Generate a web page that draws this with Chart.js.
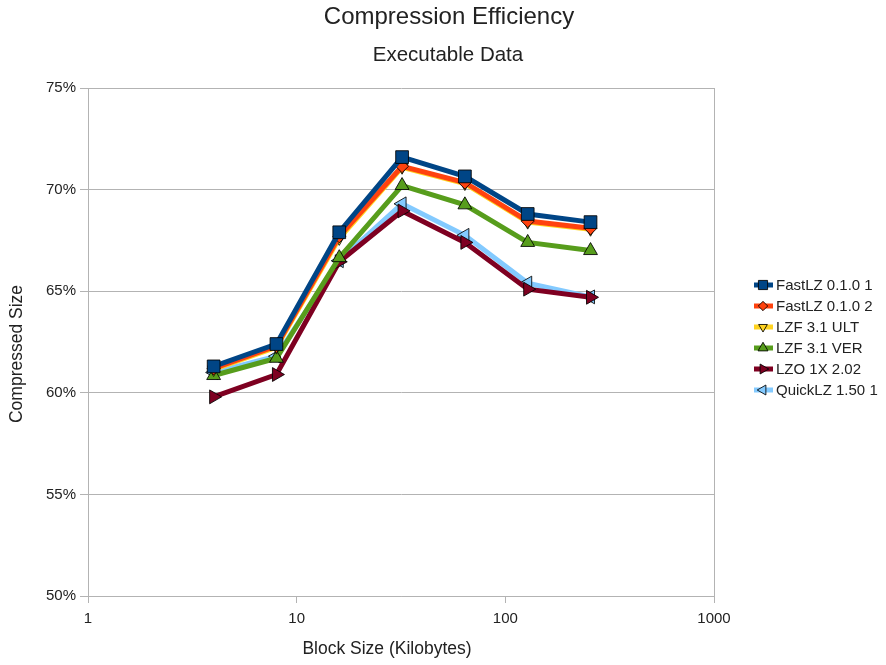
<!DOCTYPE html>
<html>
<head>
<meta charset="utf-8">
<title>Compression Efficiency</title>
<script src="https://cdn.jsdelivr.net/npm/chart.js@4/dist/chart.umd.min.js"></script>
<style>
  html, body { margin: 0; padding: 0; background: #ffffff; }
  canvas { display: block; }
</style>
</head>
<body>
<canvas id="chart" width="886" height="665"></canvas>
<script>
// Block sizes in kilobytes (x axis, logarithmic)
const blockSizes = [4, 8, 16, 32, 64, 128, 256];

// Compressed size as a percentage of the original, per compressor
const fastlz1  = [61.3, 62.4, 67.9, 71.6, 70.65, 68.8, 68.4];
const fastlz2  = [61.2, 62.3, 67.7, 71.15, 70.35, 68.45, 68.1];
const lzfUlt   = [61.15, 62.25, 67.6, 71.1, 70.3, 68.4, 68.05];
const lzfVer   = [60.85, 61.7, 66.65, 70.2, 69.25, 67.4, 67.0];
const lzo1x    = [59.8, 60.9, 66.45, 68.95, 67.4, 65.1, 64.7];
const quicklz  = [61.0, 61.8, 66.5, 69.3, 67.75, 65.4, 64.72];

const seriesNames = ['FastLZ 0.1.0 1', 'FastLZ 0.1.0 2', 'LZF 3.1 ULT', 'LZF 3.1 VER', 'LZO 1X 2.02', 'QuickLZ 1.50 1'];
const seriesValues = [fastlz1, fastlz2, lzfUlt, lzfVer, lzo1x, quicklz];

// Tick labels
const xTickValues = [1, 10, 100, 1000];
const yTickValues = [50, 55, 60, 65, 70, 75];

const colors = ['#004586', '#ff420e', '#ffd320', '#579d1c', '#7e0021', '#83caff'];
const markers = [
  { style: 'rect', rotation: 0, radius: 9 },
  { style: 'rectRot', rotation: 0, radius: 6.5 },
  { style: 'triangle', rotation: 180, radius: 7 },
  { style: 'triangle', rotation: 0, radius: 8 },
  { style: 'triangle', rotation: 90, radius: 8 },
  { style: 'triangle', rotation: 270, radius: 8 }
];

const FONT = '"Liberation Sans", Arial, sans-serif';
const TEXT = '#222222';
const GRID = '#b3b3b3';

const datasets = seriesNames.map((name, i) => ({
  label: name,
  data: blockSizes.map((b, j) => ({ x: b, y: seriesValues[i][j] })),
  borderColor: colors[i],
  backgroundColor: colors[i],
  borderWidth: 5,
  tension: 0,
  pointStyle: markers[i].style,
  pointRotation: markers[i].rotation,
  pointRadius: markers[i].radius,
  pointHoverRadius: markers[i].radius,
  pointBackgroundColor: colors[i],
  pointBorderColor: 'rgba(0,0,0,0.85)',
  pointBorderWidth: 1
}));

// Titles, axis titles and the legend on the right
const decorations = {
  id: 'decorations',
  afterDraw(chart) {
    const ctx = chart.ctx;
    ctx.save();
    ctx.fillStyle = TEXT;
    ctx.textAlign = 'center';
    ctx.textBaseline = 'middle';
    ctx.font = '24px ' + FONT;
    ctx.fillText('Compression Efficiency', 449, 17);
    ctx.font = '20.5px ' + FONT;
    ctx.fillText('Executable Data', 448, 55);

    ctx.font = '17.5px ' + FONT;
    ctx.fillText('Block Size (Kilobytes)', 387, 649);

    ctx.save();
    ctx.translate(17, 354);
    ctx.rotate(-Math.PI / 2);
    ctx.fillText('Compressed Size', 0, 0);
    ctx.restore();

    // legend
    ctx.textAlign = 'left';
    ctx.font = '15px ' + FONT;
    const startY = 285;
    const step = 21;
    seriesNames.forEach((name, i) => {
      const y = startY + i * step;
      ctx.strokeStyle = colors[i];
      ctx.lineWidth = 5;
      ctx.beginPath();
      ctx.moveTo(754, y);
      ctx.lineTo(773, y);
      ctx.stroke();
      ctx.fillStyle = colors[i];
      ctx.strokeStyle = 'rgba(0,0,0,0.85)';
      ctx.lineWidth = 1;
      Chart.helpers.drawPoint(ctx, {
        pointStyle: markers[i].style,
        rotation: markers[i].rotation,
        radius: markers[i].radius * 0.72,
        borderWidth: 1
      }, 763, y);
      ctx.fillStyle = TEXT;
      ctx.fillText(name, 776, y + 1);
    });
    ctx.restore();
  }
};

new Chart(document.getElementById('chart'), {
  type: 'line',
  data: { datasets },
  options: {
    responsive: false,
    animation: false,
    devicePixelRatio: 1,
    layout: { padding: { top: 88, right: 172, left: 0, bottom: 0 } },
    plugins: {
      legend: { display: false },
      title: { display: false },
      tooltip: { enabled: false }
    },
    scales: {
      x: {
        type: 'logarithmic',
        min: 1,
        max: 1000,
        afterBuildTicks(scale) {
          scale.ticks = xTickValues.map(v => ({ value: v }));
        },
        afterFit(scale) { scale.height = 69; },
        ticks: {
          autoSkip: false,
          maxRotation: 0,
          padding: 7,
          color: TEXT,
          font: { family: FONT, size: 15 },
          callback: (v) => String(v)
        },
        grid: {
          drawOnChartArea: true,
          tickLength: 7,
          tickColor: GRID,
          color: (c) => (c.index === 0 || c.index === xTickValues.length - 1) ? GRID : 'rgba(0,0,0,0)',
          lineWidth: 1
        },
        border: { display: true, color: GRID, width: 1 }
      },
      y: {
        type: 'linear',
        min: 50,
        max: 75,
        afterBuildTicks(scale) {
          scale.ticks = yTickValues.map(v => ({ value: v }));
        },
        afterFit(scale) { scale.width = 88; },
        ticks: {
          padding: 4,
          color: TEXT,
          font: { family: FONT, size: 15 },
          callback: (v) => v + '%'
        },
        grid: {
          tickLength: 8,
          color: GRID,
          tickColor: GRID,
          lineWidth: 1
        },
        border: { display: true, color: GRID, width: 1 }
      }
    }
  },
  plugins: [decorations]
});
</script>
</body>
</html>
